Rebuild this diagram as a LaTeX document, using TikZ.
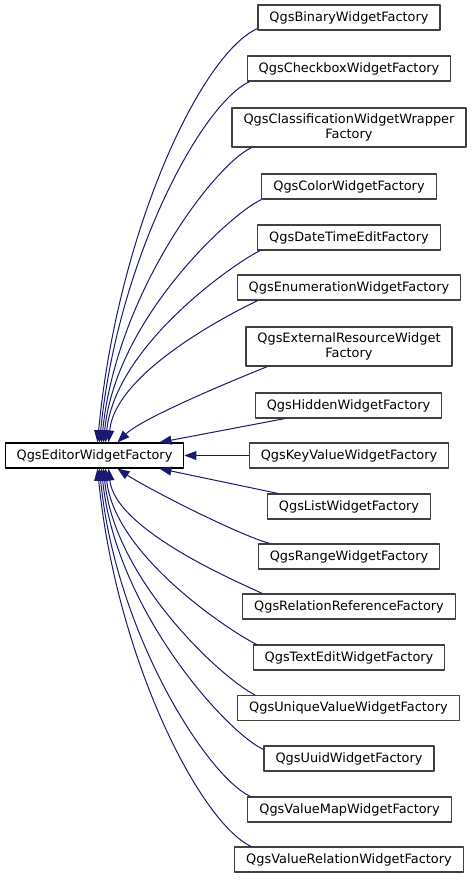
\documentclass[tikz,border=0pt]{standalone}
\usepackage{fontspec}
\setmainfont{DejaVu Sans}
\usetikzlibrary{arrows.meta}
\definecolor{inheritblue}{HTML}{191970}
\definecolor{classgrey}{HTML}{404040}

\begin{document}
\begin{tikzpicture}[
  x=1pt,
  y=-1pt,
  line join=round,
  cls/.style={draw=classgrey,line width=1.2pt,fill=white,inner xsep=11.5pt,inner ysep=5.5pt,
    minimum height=25pt,align=center,font=\fontsize{12.9}{15.5}\selectfont},
  basecls/.style={cls,draw=black},
  inherit/.style={draw=inheritblue,line width=1pt,-{Triangle[length=12pt,width=9pt]}}
]
  \useasboundingbox (0,0) rectangle (472,880);

  % Base class.
  \node[basecls] (editor) at (94.5,455.5) {QgsEditorWidgetFactory};

  % Derived factories, one column on the right.
  \node[cls] (binary) at (349,17.5) {QgsBinaryWidgetFactory};
  \node[cls] (checkbox) at (349,68.5) {QgsCheckboxWidgetFactory};
  \node[cls] (classification) at (349,127.5) {QgsClassificationWidgetWrapper\\Factory};
  \node[cls] (color) at (349,186.5) {QgsColorWidgetFactory};
  \node[cls] (datetime) at (349,237.5) {QgsDateTimeEditFactory};
  \node[cls] (enumeration) at (349,287.5) {QgsEnumerationWidgetFactory};
  \node[cls] (external) at (349,346.5) {QgsExternalResourceWidget\\Factory};
  \node[cls] (hidden) at (348.5,405.5) {QgsHiddenWidgetFactory};
  \node[cls] (keyvalue) at (349,455.5) {QgsKeyValueWidgetFactory};
  \node[cls] (list) at (349,506.5) {QgsListWidgetFactory};
  \node[cls] (range) at (349,556.5) {QgsRangeWidgetFactory};
  \node[cls] (relation) at (349,606.5) {QgsRelationReferenceFactory};
  \node[cls] (textedit) at (349,657.5) {QgsTextEditWidgetFactory};
  \node[cls] (unique) at (348.5,708) {QgsUniqueValueWidgetFactory};
  \node[cls] (uuid) at (349,758.5) {QgsUuidWidgetFactory};
  \node[cls] (valuemap) at (349.5,809.5) {QgsValueMapWidgetFactory};
  \node[cls] (valuerelation) at (349,859.5) {QgsValueRelationWidgetFactory};

  % Upper fan into the top of the base class.
  \draw[inherit] ([yshift=2pt]binary.south west) .. controls +(-56,25) and +(20,-212) .. ([xshift=93pt]editor.north west);
  \draw[inherit] ([xshift=3pt]checkbox.south west) .. controls +(-48,22) and +(18,-183) .. ([xshift=95pt]editor.north west);
  \draw[inherit] ([xshift=20pt]classification.south west) .. controls +(-38,18) and +(15,-148) .. ([xshift=97pt]editor.north west);
  \draw[inherit] (color.south west) .. controls +(-32,15) and +(12,-122) .. ([xshift=99pt]editor.north west);
  \draw[inherit] ([xshift=3pt]datetime.south west) .. controls +(-25,12) and +(10,-97) .. ([xshift=101pt]editor.north west);
  \draw[inherit] ([xshift=21pt]enumeration.south west) .. controls +(-19,9) and +(7,-72) .. ([xshift=104pt]editor.north west);
  \draw[inherit] ([xshift=22pt]external.south west) .. controls +(-25,10) and +(25,-25) .. ([xshift=113pt]editor.north west);
  \draw[inherit] ([xshift=30pt]hidden.south west) -- ([xshift=155pt]editor.north west);

  % Straight edge on the same row.
  \draw[inherit] (keyvalue) -- (editor);

  % Lower fan into the bottom of the base class.
  \draw[inherit] ([xshift=11pt]list.north west) -- ([xshift=155pt]editor.south west);
  \draw[inherit] ([xshift=12pt]range.north west) .. controls +(-30,-8) and +(30,20) .. ([xshift=113pt]editor.south west);
  \draw[inherit] ([xshift=20pt]relation.north west) .. controls +(-16,-8) and +(7,63) .. ([xshift=104pt]editor.south west);
  \draw[inherit] ([xshift=4pt]textedit.north west) .. controls +(-23,-11) and +(9,88) .. ([xshift=101pt]editor.south west);
  \draw[inherit] ([xshift=18pt]unique.north west) .. controls +(-30,-14) and +(11,113) .. ([xshift=99pt]editor.south west);
  \draw[inherit] ([yshift=-4pt]uuid.north west) .. controls +(-37,-17) and +(14,141) .. ([xshift=97pt]editor.south west);
  \draw[inherit] ([xshift=3pt]valuemap.north west) .. controls +(-43,-20) and +(16,165) .. ([xshift=95pt]editor.south west);
  \draw[inherit] ([xshift=17pt]valuerelation.north west) .. controls +(-50,-23) and +(19,192) .. ([xshift=93pt]editor.south west);
\end{tikzpicture}
\end{document}
